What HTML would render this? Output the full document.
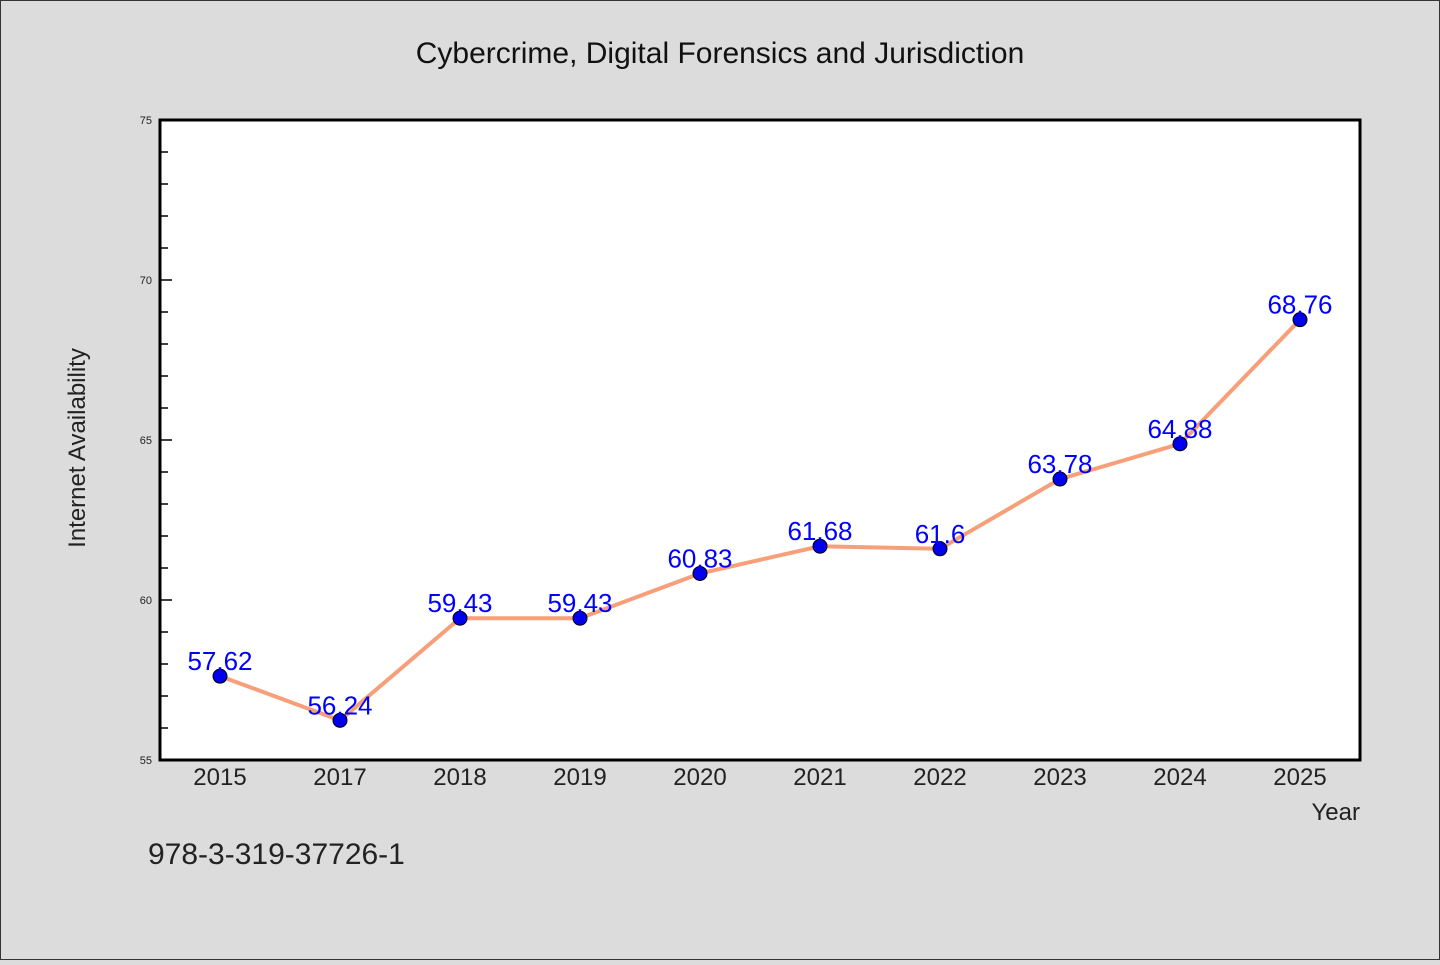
<!DOCTYPE html>
<html><head><meta charset="utf-8"><style>
html,body{margin:0;padding:0}
body{width:1440px;height:960px;background:#dcdcdc;font-family:"WenQuanYi Zen Hei","Liberation Sans",sans-serif;}
svg text{font-family:"WenQuanYi Zen Hei","Liberation Sans",sans-serif;}
</style></head><body>
<svg id="chart" width="1440" height="960" xmlns="http://www.w3.org/2000/svg">
<rect x="0.5" y="0.5" width="1439" height="959" fill="#dcdcdc" stroke="#333"/>
<text x="720" y="63" font-size="30" text-anchor="middle" fill="#111">Cybercrime, Digital Forensics and Jurisdiction</text>
<rect x="160" y="120" width="1200" height="640" fill="#fff"/>
<g id="ticks"></g>
<g id="marks"></g>
<rect x="160" y="120" width="1200" height="640" fill="none" stroke="#000" stroke-width="3"/>
<text x="85" y="448" font-size="24" text-anchor="middle" fill="#222" transform="rotate(-90 85 448)">Internet Availability</text>
<text x="1360" y="820" font-size="24" text-anchor="end" fill="#222">Year</text>
<text x="148" y="864" font-size="30" fill="#222">978-3-319-37726-1</text>
</svg>
<script>
const categories = ["2015","2017","2018","2019","2020","2021","2022","2023","2024","2025"];
const values = [57.62,56.24,59.43,59.43,60.83,61.68,61.6,63.78,64.88,68.76];
const yTickLabels = [55,60,65,70,75];
const NS="http://www.w3.org/2000/svg";
const x0=160,x1=1360,y0=760,y1=120,ymin=55,ymax=75;
const xs=i=>x0+(i+0.5)*(x1-x0)/categories.length;
const ys=v=>y0-(v-ymin)/(ymax-ymin)*(y0-y1);
function mk(t,a,p){const e=document.createElementNS(NS,t);for(const k in a)e.setAttribute(k,a[k]);p.appendChild(e);return e;}
const tg=document.getElementById('ticks'),mg=document.getElementById('marks');
for(let v=ymin;v<=ymax;v++){
  const major=yTickLabels.includes(v);
  const l=mk('line',{x1:x0,x2:x0+(major?12:8),y1:ys(v),y2:ys(v),stroke:'#000','stroke-width':1.5},tg);
  
  
}
yTickLabels.forEach(v=>{
  const t=mk('text',{x:x0-8,y:ys(v)+4,'font-size':11,'text-anchor':'end',fill:'#222'},tg);
  t.textContent=v;
  
  
});
categories.forEach((c,i)=>{
  const t=mk('text',{x:xs(i),y:785,'font-size':24,'text-anchor':'middle',fill:'#222'},tg);
  t.textContent=c;
  
  
});
const pl=mk('polyline',{points:values.map((v,i)=>xs(i)+','+ys(v)).join(' '),fill:'none',stroke:'#f79f79','stroke-width':4,'stroke-linejoin':'round'},mg);


values.forEach((v,i)=>{
  const c=mk('circle',{cx:xs(i),cy:ys(v),r:7,fill:'#0000ee',stroke:'#000','stroke-width':1},mg);
  
  
  const t=mk('text',{x:xs(i),y:ys(v)-6,'font-size':26,'text-anchor':'middle',fill:'#0000ff'},mg);
  t.textContent=v;
  
  
});
</script>
</body></html>
